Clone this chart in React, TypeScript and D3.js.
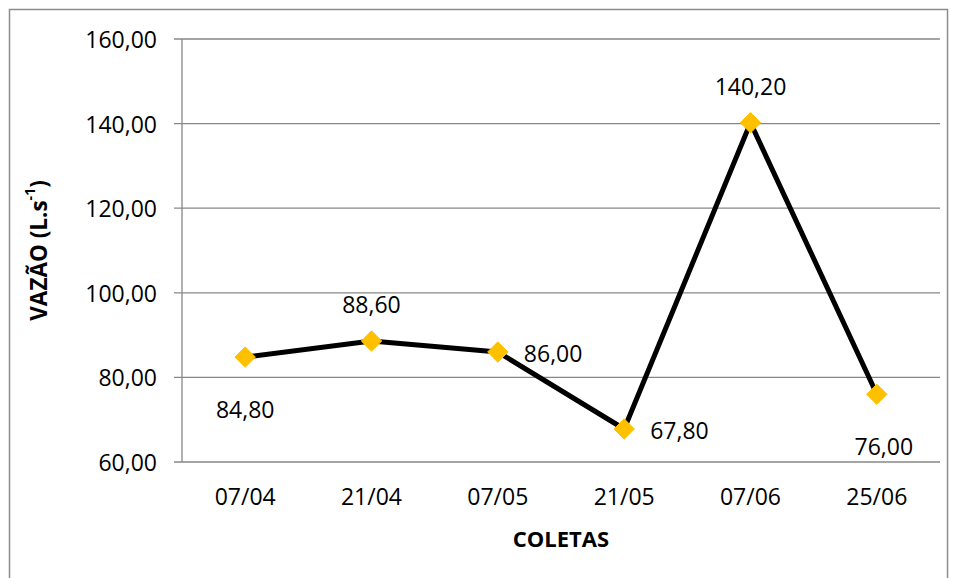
import React from "react";
import * as d3 from "d3";

const categories = ["07/04", "21/04", "07/05", "21/05", "07/06", "25/06"];
const values = [84.8, 88.6, 86.0, 67.8, 140.2, 76.0];
const yTicks = [60, 80, 100, 120, 140, 160];
const labelPlacement = ["below", "above", "right", "right", "above", "below"];

const W = 954;
const H = 578;
const margin = { left: 182, right: 14, top: 39, bottom: 116 };
const FONT = "'Open Sans', 'Liberation Sans', sans-serif";

const fmt = (v: number) => v.toFixed(2).replace(".", ",");

export default function App() {
  const x = d3
    .scaleBand<string>()
    .domain(categories)
    .range([margin.left, W - margin.right])
    .padding(0);
  const y = d3.scaleLinear().domain([60, 160]).range([H - margin.bottom, margin.top]);
  const cx = (c: string) => (x(c) as number) + x.bandwidth() / 2;

  const line = d3
    .line<number>()
    .x((_, i) => cx(categories[i]))
    .y((d) => y(d));

  const diamond = d3.symbol().type(d3.symbolDiamond2).size(265);

  const labelPos = (i: number) => {
    const px = cx(categories[i]);
    const py = y(values[i]);
    const p = labelPlacement[i];
    if (p === "below") return { x: px + (i === 0 ? 0 : 7), y: py + 52, anchor: "middle" };
    if (p === "above") return { x: px, y: py - 37, anchor: "middle" };
    return { x: px + 26, y: py + 1, anchor: "start" };
  };

  return (
    <svg
      width={W}
      height={H}
      style={{ position: "absolute", left: 0, top: 0, background: "#fff" }}
      fontFamily={FONT}
    >
      <rect x={9.5} y={9.5} width={938} height={600} fill="#fff" stroke="#8c8c8c" strokeWidth={1.5} />
      {yTicks.map((t) => (
        <g key={t}>
          <line x1={174} x2={W - margin.right} y1={y(t)} y2={y(t)} stroke="#878787" strokeWidth={1.3} />
          <text x={157} y={y(t)} textAnchor="end" dominantBaseline="central" fontSize={23} fill="#000">
            {fmt(t)}
          </text>
        </g>
      ))}
      <line x1={margin.left} x2={margin.left} y1={y(160)} y2={y(60)} stroke="#878787" strokeWidth={1.3} />
      {categories.map((c) => (
        <text key={c} x={cx(c)} y={496} textAnchor="middle" dominantBaseline="central" fontSize={23} fill="#000">
          {c}
        </text>
      ))}
      <path d={line(values) || ""} fill="none" stroke="#000" strokeWidth={5} strokeLinejoin="round" />
      {values.map((v, i) => (
        <path
          key={i}
          d={diamond() || ""}
          transform={`translate(${cx(categories[i])},${y(v)})`}
          fill="#FFC000"
          stroke="#FFC000"
          strokeWidth={1}
          strokeLinejoin="round"
        />
      ))}
      {values.map((v, i) => {
        const p = labelPos(i);
        return (
          <text key={i} x={p.x} y={p.y} textAnchor={p.anchor as any} dominantBaseline="central" fontSize={23} fill="#000">
            {fmt(v)}
          </text>
        );
      })}
      <text x={561} y={538} textAnchor="middle" dominantBaseline="central" fontSize={22} fontWeight="bold">
        COLETAS
      </text>
      <text
        transform={`translate(38,${(y(60) + y(160)) / 2}) rotate(-90)`}
        textAnchor="middle"
        dominantBaseline="central"
        fontSize={22.5}
        fontWeight="bold"
      >
        VAZÃO (L.s<tspan dy={-9} fontSize={14}>-1</tspan>
        <tspan dy={9}>)</tspan>
      </text>
    </svg>
  );
}
